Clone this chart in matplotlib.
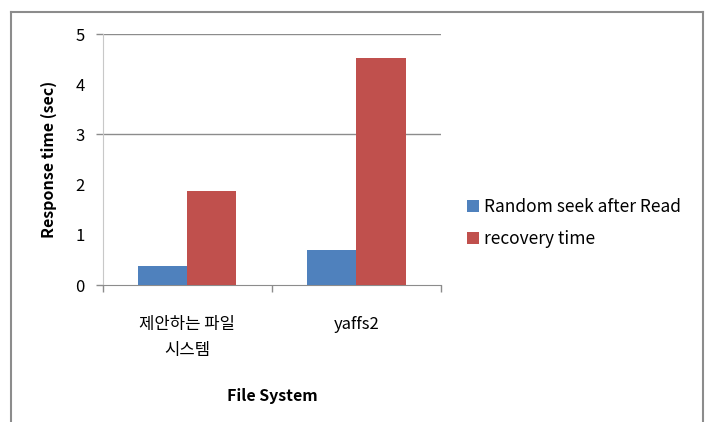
import matplotlib
matplotlib.use("Agg")
import matplotlib.pyplot as plt
from matplotlib.lines import Line2D
import numpy as np

plt.rcParams['font.family'] = ['Noto Sans CJK KR', 'DejaVu Sans']

# data
categories = ['제안하는 파일\n시스템', 'yaffs2']
random_seek = [0.37, 0.70]
recovery = [1.87, 4.53]
series_names = ['Random seek after Read', 'recovery time']
yticks = [0, 1, 2, 3, 4, 5]

fig = plt.figure(figsize=(7.08, 4.22), dpi=100)
ax = fig.add_axes([0.145, 0.3246, 0.478, 0.5948])

x = np.arange(len(categories))
w = 0.29
ax.bar(x - w / 2, random_seek, w, color='#4f81bd', label=series_names[0], zorder=3)
ax.bar(x + w / 2, recovery, w, color='#c0504d', label=series_names[1], zorder=3)

ax.set_xlim(-0.5, 1.5)
ax.set_ylim(0, 5)

# labels on major ticks, visible marks on minor ticks
ax.yaxis.remove_overlapping_locs = False
ax.set_yticks(yticks)
ax.set_yticks([0, 3, 5], minor=True)
ax.set_xticks(x)
ax.set_xticklabels(categories, linespacing=1.75)
ax.set_xticks([-0.5, 0.5, 1.5], minor=True)
ax.tick_params(axis='both', which='major', length=0, labelsize=12, colors='#000000')
ax.tick_params(axis='y', which='major', pad=13)
ax.tick_params(axis='x', which='major', pad=22)
ax.tick_params(axis='both', which='minor', length=5, color='#8c8c8c', width=1)

# gridlines only where the minor marks are
for v in ax.get_yticks(minor=True)[1:]:
    ax.axhline(v, color='#8c8c8c', lw=1, zorder=1)

for s in ['top', 'right']:
    ax.spines[s].set_visible(False)
ax.spines['left'].set_color('#c8c8c8')
ax.spines['bottom'].set_color('#8c8c8c')

ax.set_ylabel('Response time (sec)', fontsize=11.5, fontweight='bold')
ax.yaxis.set_label_coords(-0.135, 0.5)
ax.set_xlabel('File System', fontsize=11.5, fontweight='bold')
ax.xaxis.set_label_coords(0.5, -0.41)

fig.legend(loc='upper left', bbox_to_anchor=(0.637, 0.568), frameon=False,
           fontsize=12.5, handlelength=0.7, handleheight=0.7,
           handletextpad=0.3, labelspacing=0.8)

# chart border
for xs, ys in [([0.0155, 0.0155], [0.0, 0.972]),
               ([0.0155, 0.993], [0.972, 0.972]),
               ([0.993, 0.993], [0.972, 0.0])]:
    fig.add_artist(Line2D(xs, ys, color='#8c8c8c', lw=1.5))

fig.savefig('out.png', dpi=100)
